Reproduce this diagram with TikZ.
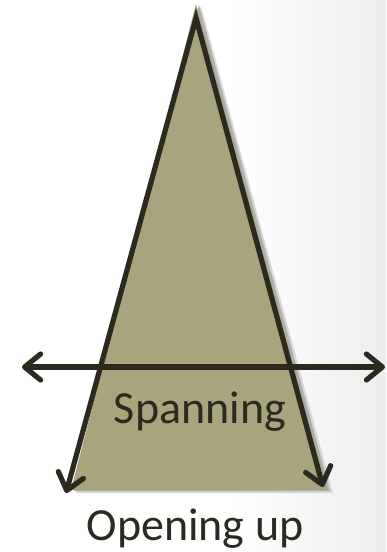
\documentclass[tikz,border=0pt]{standalone}
\usepackage{fontspec}
\setmainfont{Carlito}
\usetikzlibrary{arrows.meta}
\definecolor{olivefill}{RGB}{168,164,126}
\definecolor{darkline}{RGB}{44,41,31}
\definecolor{shadowgray}{RGB}{175,175,175}
\tikzset{
  barb/.tip={Straight Barb[length=16pt,width=26pt,round]},
  arrowline/.style={draw=darkline,line width=5.2pt,line join=miter,barb-barb},
  label/.style={font=\fontsize{46}{50}\selectfont,text=darkline,inner sep=0pt,anchor=base}
}
\begin{document}
\begin{tikzpicture}[x=1pt,y=-1pt]
\useasboundingbox (0,0) rectangle (386,552);
\fill[white] (0,0) rectangle (386,552);
\shade[left color=white,right color=black!7] (230,0) rectangle (386,552);
% coordinates
\coordinate (apex) at (196,18);
\coordinate (tipL) at (66,493);
\coordinate (tipR) at (323,487);
\coordinate (hL) at (22,367);
\coordinate (hR) at (385,367);
% shadow
\fill[shadowgray!50] (201,6) -- (333,493) -- (76,493) -- cycle;
\fill[shadowgray] (199,5) -- (330,491) -- (74,491) -- cycle;
% fill
\fill[olivefill] (196,4) -- (327,490) -- (71,490) -- cycle;
% lines
\draw[arrowline] (tipL) -- (apex) -- (tipR);
\draw[arrowline] (hL) -- (hR);
% labels
\node[label] (span) at (200,423) {Spanning};
\node[label] (open) at (195,540) {Opening up};
\end{tikzpicture}
\end{document}
